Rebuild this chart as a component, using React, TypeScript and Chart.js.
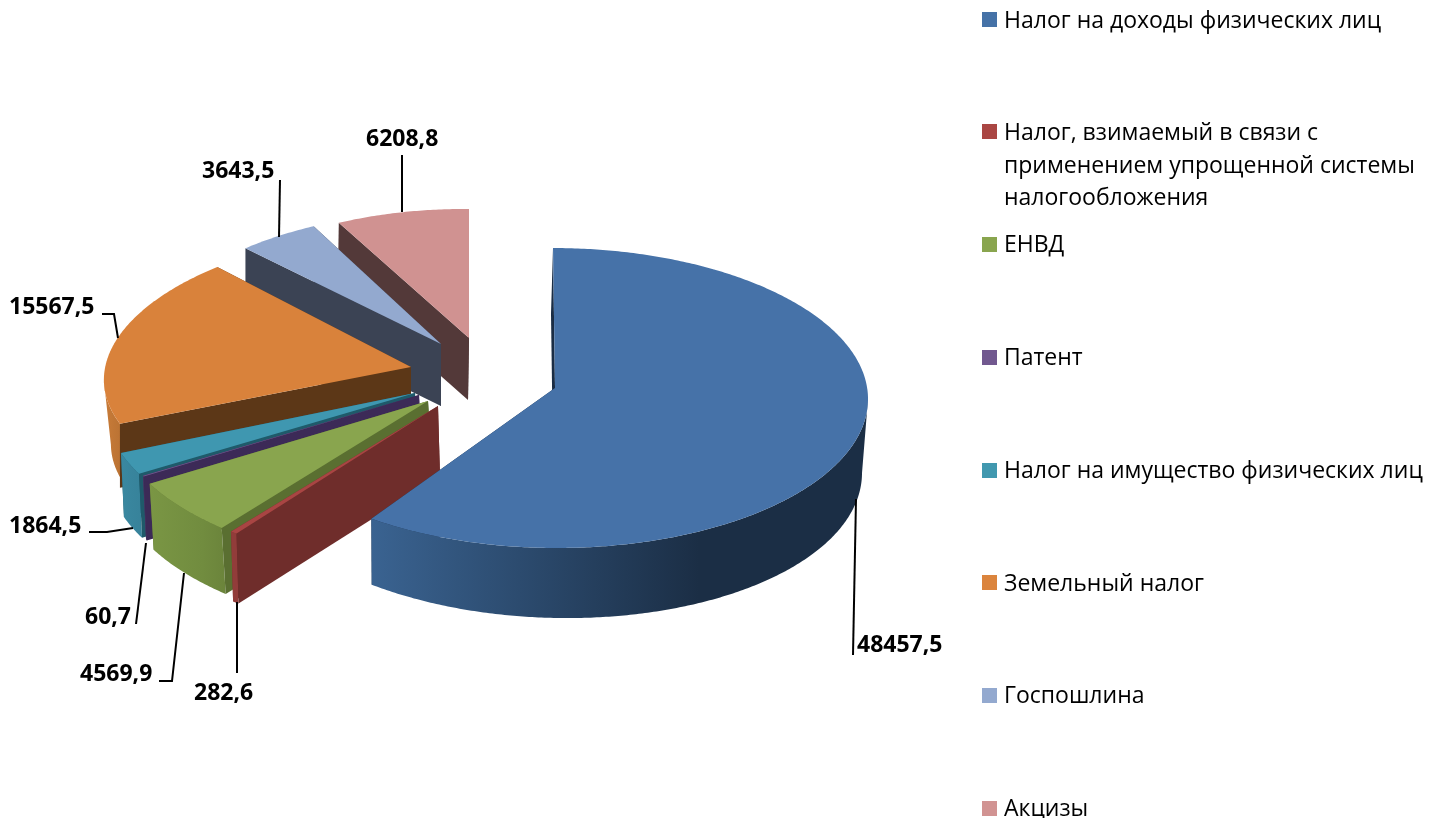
import React, { useEffect, useRef } from "react";
import { Chart, registerables } from "chart.js";

Chart.register(...registerables);

const categories = [
  "Налог на доходы физических лиц",
  "Налог, взимаемый в связи с применением упрощенной системы налогообложения",
  "ЕНВД",
  "Патент",
  "Налог на имущество физических лиц",
  "Земельный налог",
  "Госпошлина",
  "Акцизы",
];
const values = [48457.5, 282.6, 4569.9, 60.7, 1864.5, 15567.5, 3643.5, 6208.8];
const legendLines = [
  ["Налог на доходы физических лиц"],
  ["Налог, взимаемый в связи с", "применением упрощенной системы", "налогообложения"],
  ["ЕНВД"],
  ["Патент"],
  ["Налог на имущество физических лиц"],
  ["Земельный налог"],
  ["Госпошлина"],
  ["Акцизы"],
];
const topColors = ["#4672a8", "#a94543", "#89a54e", "#71588f", "#3f97b0", "#d9823b", "#93a9cf", "#d09291"];
const swatchColors = ["#4572a7", "#aa4643", "#89a54e", "#71588f", "#4198af", "#db843d", "#93a9cf", "#d19392"];
const wallColors = ["#1a2d45", "#6f2d2b", "#5a6f31", "#3c2a57", "#1f5a6a", "#5c3717", "#3b4354", "#533939"];
const outerStops: [number, string][][] = [
  [[0, "#3a6391"], [0.66, "#1b2e45"], [1, "#1b2e45"]],
  [[0, "#923c3a"], [1, "#923c3a"]],
  [[0, "#7a9644"], [0.7, "#718c3f"], [1, "#6b843b"]],
  [[0, "#4a3565"], [1, "#4a3565"]],
  [[0, "#3a88a0"], [1, "#37829a"]],
  [[0, "#c97c39"], [1, "#b56f31"]],
  [[0, "#5a6a85"], [1, "#5a6a85"]],
  [[0, "#7a5553"], [1, "#7a5553"]],
];

// Per-slice projection of the flat pie: offset of the apex from the chart's pie centre,
// the axes of the flattened disc, small perspective terms and the extrusion.
type Shape = {
  ox: number; oy: number; a: number; c: number; b: number; d: number; p: number; b2: number;
  dx0: number; wx: number; dxu: number; dy0: number; dyv: number; dyu: number;
};
const shapes: Shape[] = [
  { ox: -1, oy: 0, a: 313, c: 2, b: 0, d: 149.3, p: 0.0667, b2: 10, dx0: -2, wx: 0, dxu: -4, dy0: 68, dyv: 2, dyu: 6 },
  { ox: -118, oy: 18, a: 320, c: -15, b: 5, d: 162, p: 0, b2: 0, dx0: 2, wx: 0, dxu: 0, dy0: 70, dyv: 0, dyu: 0 },
  { ox: -128, oy: 13, a: 319, c: -15, b: 5, d: 164, p: 0, b2: 0, dx0: 4, wx: 0, dxu: 0, dy0: 66, dyv: 0, dyu: 0 },
  { ox: -137, oy: 7, a: 311, c: -22, b: 4, d: 160, p: 0, b2: 0, dx0: 3, wx: 0, dxu: 0, dy0: 64, dyv: 0, dyu: 0 },
  { ox: -141, oy: 5, a: 311, c: -22, b: 4, d: 160, p: 0, b2: 0, dx0: 3, wx: 0, dxu: 0, dy0: 64, dyv: 0, dyu: 0 },
  { ox: -145, oy: -21, a: 306, c: -26, b: -1, d: 140, p: 0, b2: 0, dx0: 0, wx: 7, dxu: 0, dy0: 64, dyv: 0, dyu: 0 },
  { ox: -115, oy: -44, a: 291, c: -9, b: 0, d: 133, p: 0, b2: 0, dx0: 0, wx: 0, dxu: 0, dy0: 62, dyv: 0, dyu: 0 },
  { ox: -87, oy: -50, a: 280, c: 0, b: 2, d: 129, p: 0, b2: 0, dx0: -1, wx: 0, dxu: 0, dy0: 62, dyv: 0, dyu: 0 },
];

const valueLabelPos: [number, number][] = [
  [857, 652], [194, 700], [80, 681], [85, 624], [9, 533], [9, 314], [202, 178], [366, 146],
];
const leaders: [number, number][][] = [
  [[856, 499], [853, 655]],
  [[237, 602], [237, 673]],
  [[184, 573], [172, 681], [159, 681]],
  [[146, 543], [136, 624]],
  [[133, 528], [107, 532], [89, 532]],
  [[118, 338], [114, 314], [102, 314]],
  [[279, 237], [280, 180]],
  [[402, 212], [402, 155]],
];
const legendSwatchY = [12, 124, 237, 350, 463, 575, 688, 801];
const legendBaseY = [28, 140, 252, 365, 478, 591, 703, 816];
const legendLineStep = 32.5;

const FONT = '"Open Sans", "Noto Sans", sans-serif';

const pie3d = {
  id: "pie3d",
  beforeDatasetsDraw(chart: any) {
    const ctx: CanvasRenderingContext2D = chart.ctx;
    const arcs = chart.getDatasetMeta(0).data;
    for (let i = arcs.length - 1; i >= 0; i--) {
      const el = arcs[i];
      const s = shapes[i];
      const top = (ang: number) => {
        const u = Math.cos(ang);
        const v = Math.sin(ang);
        return [
          el.x + s.ox + s.a * u + s.c * v,
          el.y + s.oy + s.b * u + s.b2 * u * u + (s.d * v) / (1 - s.p * v),
        ];
      };
      const low = (ang: number) => {
        const u = Math.cos(ang);
        const v = Math.sin(ang);
        const t = top(ang);
        return [t[0] + s.dx0 + s.dxu * u, t[1] + s.dy0 + s.dyv * v + s.dyu * u];
      };
      const outerLow = (ang: number) => {
        const p = low(ang);
        return [p[0] + s.wx, p[1]];
      };
      const apex = [el.x + s.ox, el.y + s.oy];
      const apexLow = [apex[0] + s.dx0, apex[1] + s.dy0];
      const n = Math.max(2, Math.ceil((el.endAngle - el.startAngle) / 0.01));
      const angles: number[] = [];
      for (let k = 0; k <= n; k++) angles.push(el.startAngle + ((el.endAngle - el.startAngle) * k) / n);

      const poly = (pts: number[][], fill: string | CanvasGradient) => {
        ctx.beginPath();
        pts.forEach((p, k) => (k ? ctx.lineTo(p[0], p[1]) : ctx.moveTo(p[0], p[1])));
        ctx.closePath();
        ctx.fillStyle = fill;
        ctx.fill();
      };

      // far radial wall, then the outer wall where it faces the viewer, then the near radial wall
      poly([apex, top(el.endAngle), low(el.endAngle), apexLow], wallColors[i]);
      const front = angles.filter((a) => s.a * Math.sin(a) - s.c * Math.cos(a) > 0);
      if (front.length > 1) {
        const upper = front.map(top);
        const lower = front.map(outerLow).reverse();
        const xs = upper.concat(lower).map((p) => p[0]);
        const g = ctx.createLinearGradient(Math.min(...xs), 0, Math.max(...xs), 0);
        outerStops[i].forEach(([o, c]) => g.addColorStop(o, c));
        poly(upper.concat(lower), g);
      }
      if (i !== 0) poly([apex, top(el.startAngle), low(el.startAngle), apexLow], wallColors[i]);
      else poly([apex, top(el.startAngle), low(el.startAngle), apexLow], wallColors[i]);
      // top face
      poly([apex].concat(angles.map(top)), topColors[i]);
    }
    return false;
  },
  afterDraw(chart: any) {
    const ctx: CanvasRenderingContext2D = chart.ctx;
    ctx.save();
    ctx.strokeStyle = "#000";
    ctx.lineWidth = 2;
    leaders.forEach((pts) => {
      ctx.beginPath();
      pts.forEach((p, k) => (k ? ctx.lineTo(p[0], p[1]) : ctx.moveTo(p[0], p[1])));
      ctx.stroke();
    });
    ctx.fillStyle = "#000";
    ctx.textAlign = "left";
    ctx.textBaseline = "alphabetic";
    ctx.font = `bold 23px ${FONT}`;
    values.forEach((v, i) => {
      ctx.fillText(String(v).replace(".", ","), valueLabelPos[i][0], valueLabelPos[i][1]);
    });
    ctx.font = `23px ${FONT}`;
    legendLines.forEach((lines, i) => {
      ctx.fillStyle = swatchColors[i];
      ctx.fillRect(982, legendSwatchY[i], 15, 15);
      ctx.fillStyle = "#000";
      lines.forEach((t, k) => ctx.fillText(t, 1004, legendBaseY[i] + k * legendLineStep));
    });
    ctx.restore();
  },
};

export default function App() {
  const ref = useRef<HTMLCanvasElement>(null);
  useEffect(() => {
    const chart = new Chart(ref.current as HTMLCanvasElement, {
      type: "pie",
      data: {
        labels: categories,
        datasets: [{ data: values, backgroundColor: topColors, borderWidth: 0 }],
      },
      options: {
        animation: false,
        responsive: false,
        devicePixelRatio: 1,
        layout: { padding: { left: 243, right: 569, top: 75, bottom: 117 } },
        plugins: { legend: { display: false }, tooltip: { enabled: false }, title: { display: false } },
      },
      plugins: [pie3d],
    } as any);
    return () => chart.destroy();
  }, []);
  return (
    <canvas
      ref={ref}
      width={1438}
      height={818}
      style={{ position: "absolute", left: 0, top: 0, width: 1438, height: 818, background: "#fff" }}
    />
  );
}
